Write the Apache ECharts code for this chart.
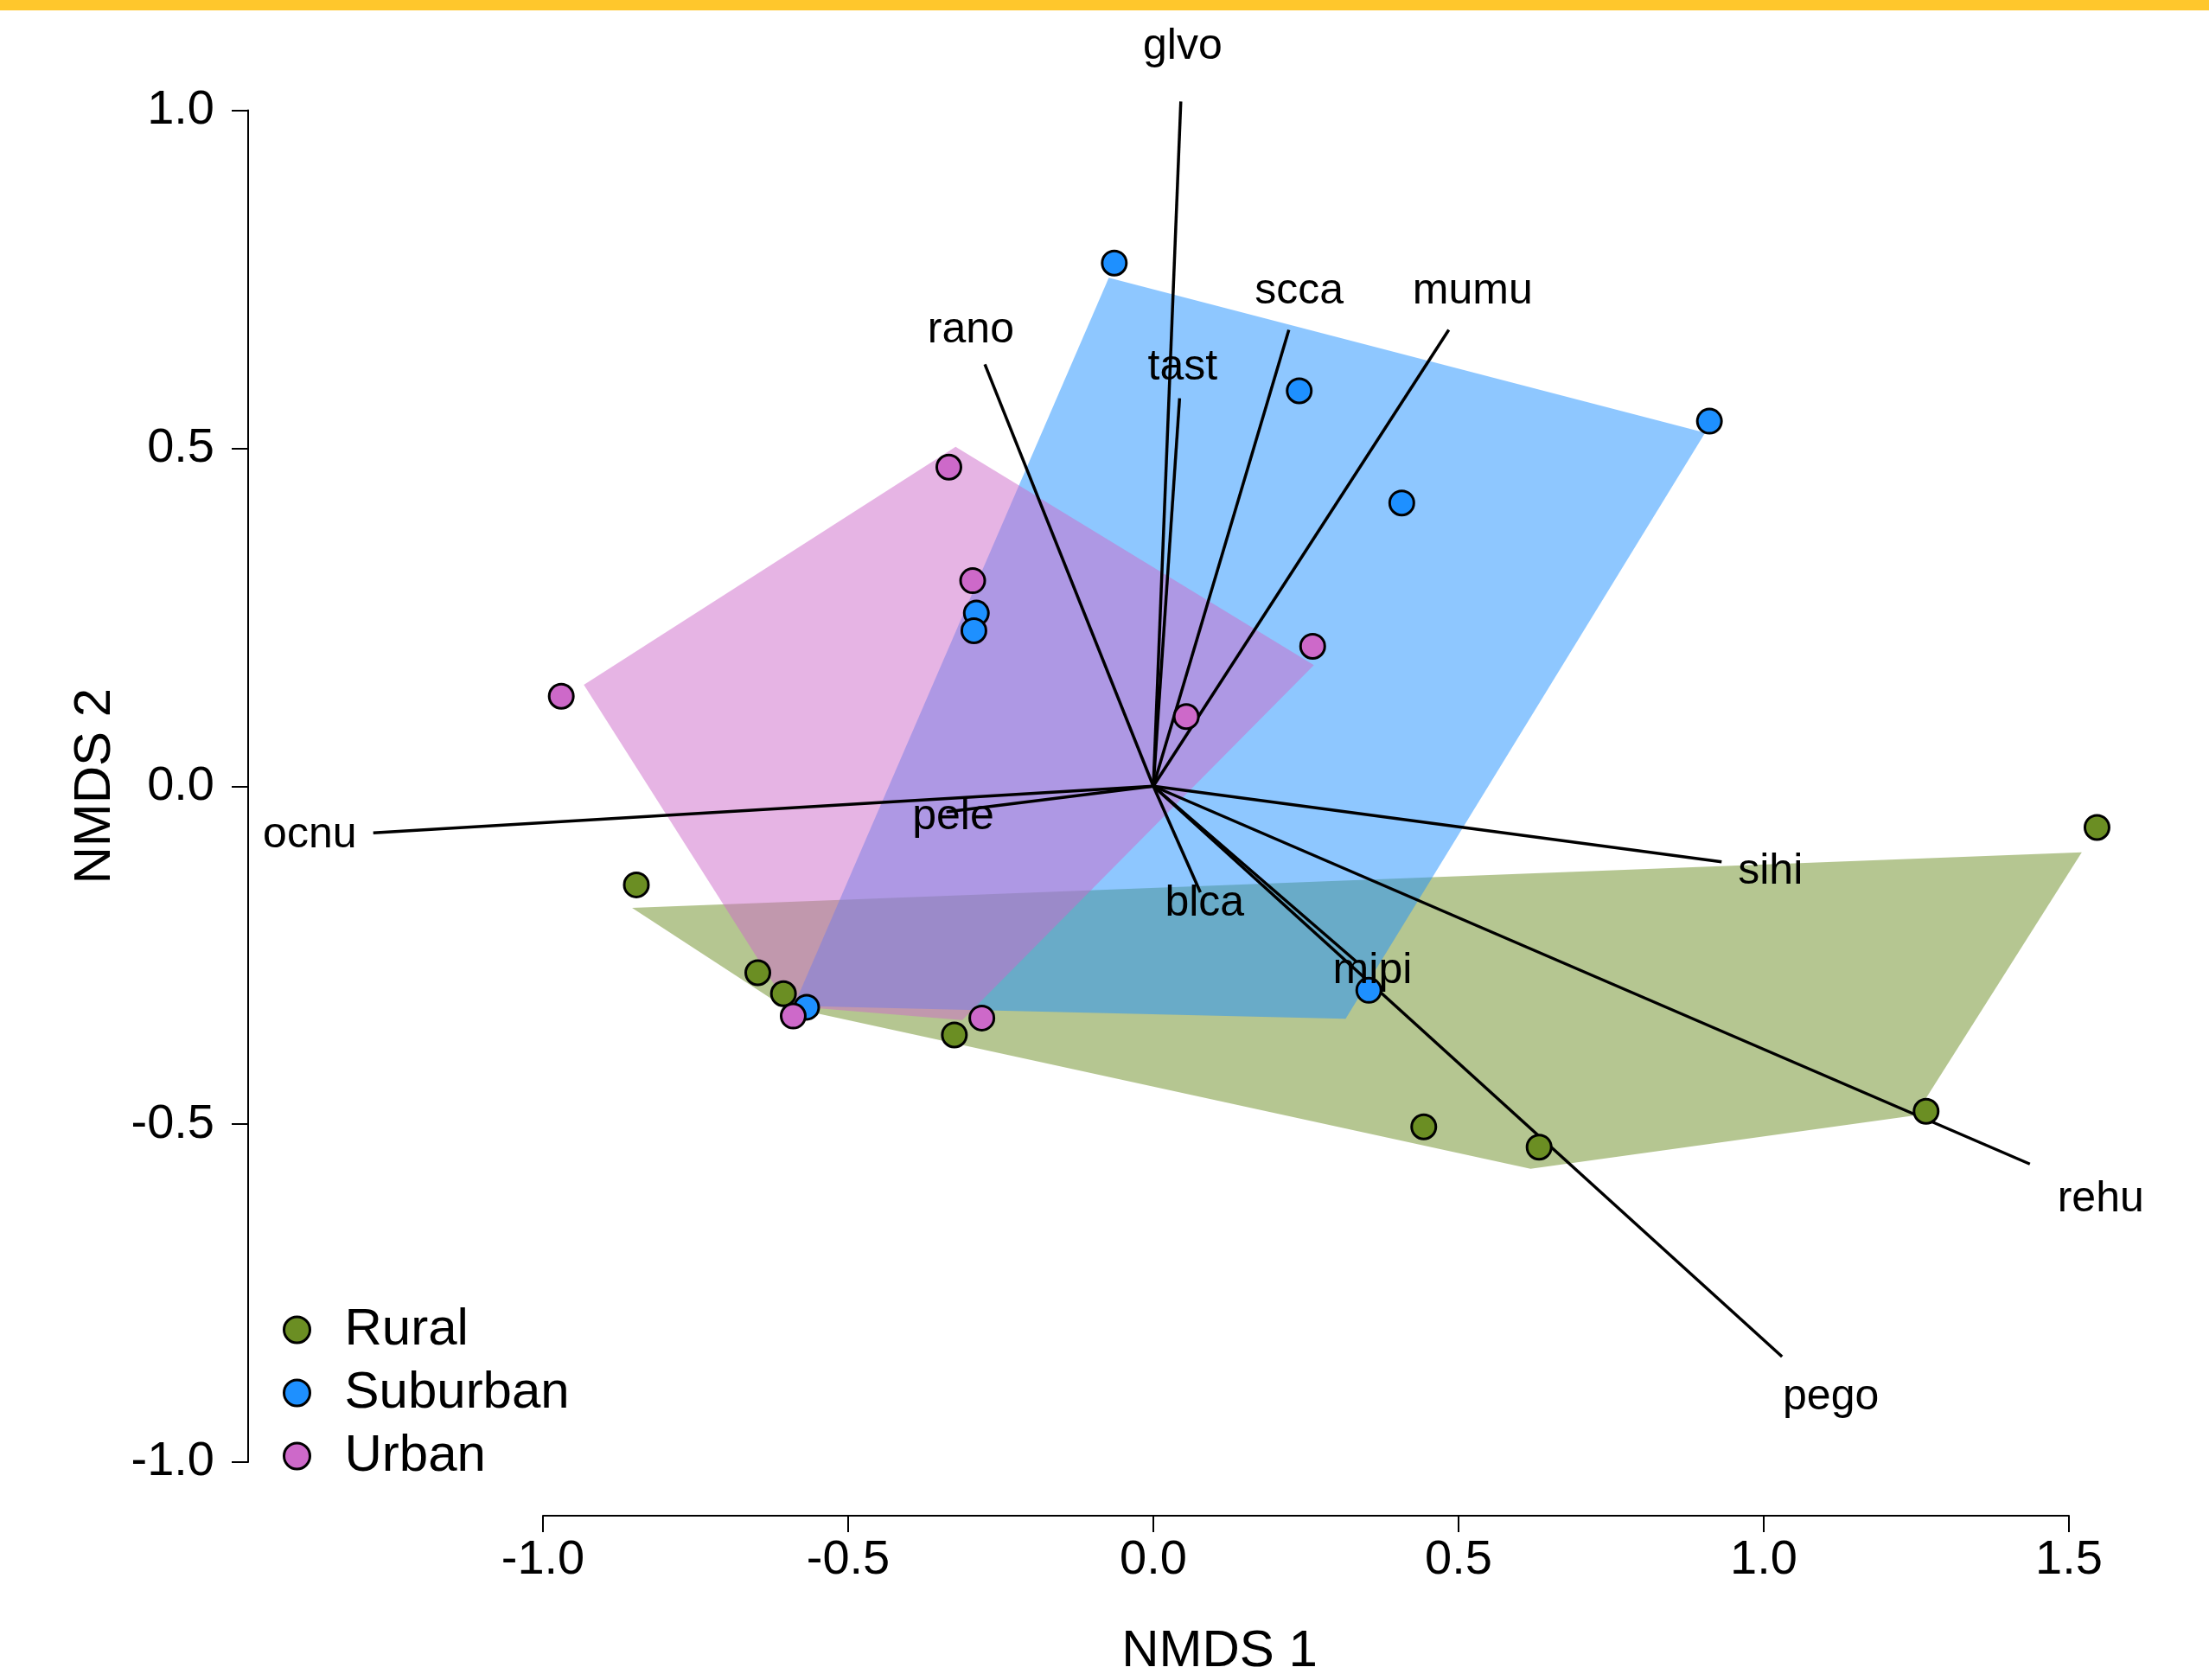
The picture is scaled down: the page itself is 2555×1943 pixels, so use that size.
<!DOCTYPE html>
<html>
<head>
<meta charset="utf-8">
<script src="https://cdn.jsdelivr.net/npm/echarts@6/dist/echarts.min.js"></script>
<style>
  html, body { margin: 0; padding: 0; background: #fff; }
  #container { width: 2555px; height: 1943px; }
</style>
</head>
<body>
<div id="container"></div>
<script>
var FONT = '"Liberation Sans", Arial, sans-serif';

// site scores (NMDS1, NMDS2)
var groups = ['Rural', 'Suburban', 'Urban'];
var ruralPts = [[-0.847, -0.146], [-0.648, -0.276], [-0.606, -0.307], [-0.326, -0.368],
                [0.443, -0.504], [0.632, -0.534], [1.266, -0.481], [1.546, -0.061]];
var suburbanPts = [[-0.064, 0.774], [0.239, 0.585], [0.911, 0.540], [0.407, 0.419],
                   [-0.290, 0.256], [-0.294, 0.230], [-0.568, -0.327], [0.353, -0.302]];
var urbanPts = [[-0.970, 0.133], [-0.335, 0.472], [-0.296, 0.304], [0.261, 0.207],
                [0.054, 0.103], [-0.590, -0.340], [-0.281, -0.343]];

// hull outlines
var ruralHull = [[-0.854, -0.180], [-0.608, -0.325], [0.618, -0.566], [1.248, -0.487], [1.521, -0.098]];
var suburbanHull = [[-0.073, 0.752], [0.904, 0.523], [0.315, -0.344], [-0.589, -0.325]];
var urbanHull = [[-0.933, 0.150], [-0.324, 0.502], [0.263, 0.179], [-0.313, -0.346], [-0.599, -0.325]];

// species vectors
var species = ['glvo', 'rano', 'tast', 'scca', 'mumu', 'ocnu', 'pele', 'blca', 'mipi', 'pego', 'rehu', 'sihi'];
var arrowEnds = [[0.045, 1.013], [-0.276, 0.624], [0.043, 0.574], [0.222, 0.675], [0.484, 0.675],
                 [-1.278, -0.069], [-0.339, -0.038], [0.077, -0.157], [0.332, -0.259],
                 [1.030, -0.844], [1.436, -0.559], [0.931, -0.112]];
var labelPos = [[0.048, 1.094], [-0.299, 0.674], [0.048, 0.619], [0.239, 0.732], [0.523, 0.732],
                [-1.382, -0.073], [-0.328, -0.046], [0.084, -0.174], [0.359, -0.274],
                [1.110, -0.904], [1.552, -0.611], [1.011, -0.126]];

var xTicks = { min: -1, max: 1.5, step: 0.5 };
var yTicks = { min: -1, max: 1, step: 0.5 };

var colors = { Rural: '#6B8E23', Suburban: '#1E90FF', Urban: '#CD69C9' };
var fills = { Rural: 'rgba(107,142,35,0.5)', Suburban: 'rgba(30,144,255,0.5)', Urban: 'rgba(205,105,201,0.5)' };

var dom = document.getElementById('container');
var myChart = echarts.init(dom, null, { renderer: 'canvas' });

function hullSeries(name, pts) {
  return {
    type: 'custom',
    name: name + ' hull',
    data: pts,
    z: 1,
    silent: true,
    renderItem: function (params, api) {
      if (params.dataIndex !== 0) return;
      var points = pts.map(function (p) { return api.coord(p); });
      return { type: 'polygon', shape: { points: points }, style: { fill: fills[name] } };
    }
  };
}

function pointSeries(name, pts) {
  return {
    type: 'scatter',
    name: name,
    data: pts,
    z: 4,
    clip: false,
    symbol: 'circle',
    symbolSize: 28,
    itemStyle: { color: colors[name], borderColor: '#000', borderWidth: 3, opacity: 1 }
  };
}

var axisCommon = {
  type: 'value',
  nameLocation: 'middle',
  nameTextStyle: { fontSize: 60, color: '#000', fontFamily: FONT },
  axisLine: { show: true, onZero: false, lineStyle: { color: '#000', width: 2 } },
  axisTick: { show: true, inside: false, length: 19, lineStyle: { color: '#000', width: 2 } },
  splitLine: { show: false },
  axisLabel: { fontSize: 56, color: '#000', fontFamily: FONT, formatter: function (v) { return v.toFixed(1); } }
};

var option = {
  backgroundColor: '#fff',
  animation: false,
  graphic: [{ type: 'rect', left: 0, top: 0, shape: { width: 2555, height: 12 }, style: { fill: '#FFC72C' } }],
  grid: { left: 628, right: 162, top: 127.5, bottom: 252, outerBoundsMode: 'none' },
  xAxis: Object.assign({}, axisCommon, {
    min: xTicks.min, max: xTicks.max, interval: xTicks.step,
    position: 'bottom', offset: 62,
    name: 'NMDS 1', nameGap: 127,
    // R centres the axis title on the plot region, not on the drawn axis
    nameTextStyle: { fontSize: 60, color: '#000', fontFamily: FONT, padding: [0, 200, 0, 0] },
    axisLabel: Object.assign({}, axisCommon.axisLabel, { margin: 24 })
  }),
  yAxis: Object.assign({}, axisCommon, {
    min: yTicks.min, max: yTicks.max, interval: yTicks.step,
    position: 'left', offset: 341,
    name: 'NMDS 2', nameGap: 138,
    axisLabel: Object.assign({}, axisCommon.axisLabel, { margin: 39 })
  }),
  legend: {
    data: groups,
    orient: 'vertical',
    left: 322,
    top: 1503,
    itemWidth: 30,
    itemHeight: 30,
    itemGap: 13,
    icon: 'circle',
    itemStyle: { borderColor: '#000', borderWidth: 3 },
    textStyle: { fontSize: 60, color: '#000', fontFamily: FONT, padding: [0, 0, 0, 35] }
  },
  series: [
    hullSeries('Rural', ruralHull),
    hullSeries('Suburban', suburbanHull),
    hullSeries('Urban', urbanHull),
    {
      type: 'lines',
      name: 'vectors',
      coordinateSystem: 'cartesian2d',
      z: 3,
      clip: false,
      silent: true,
      lineStyle: { color: '#000', width: 3.5, opacity: 1, curveness: 0 },
      data: arrowEnds.map(function (e) { return { coords: [[0, 0], e] }; })
    },
    pointSeries('Rural', ruralPts),
    pointSeries('Suburban', suburbanPts),
    pointSeries('Urban', urbanPts),
    {
      type: 'custom',
      name: 'species labels',
      data: labelPos,
      z: 5,
      silent: true,
      renderItem: function (params, api) {
        var p = api.coord([api.value(0), api.value(1)]);
        return {
          type: 'text',
          x: p[0], y: p[1],
          style: {
            text: species[params.dataIndex],
            fill: '#000',
            fontSize: 50,
            fontFamily: FONT,
            align: 'center',
            verticalAlign: 'middle'
          }
        };
      }
    }
  ]
};

myChart.setOption(option);
window.addEventListener('resize', myChart.resize);
</script>
</body>
</html>
